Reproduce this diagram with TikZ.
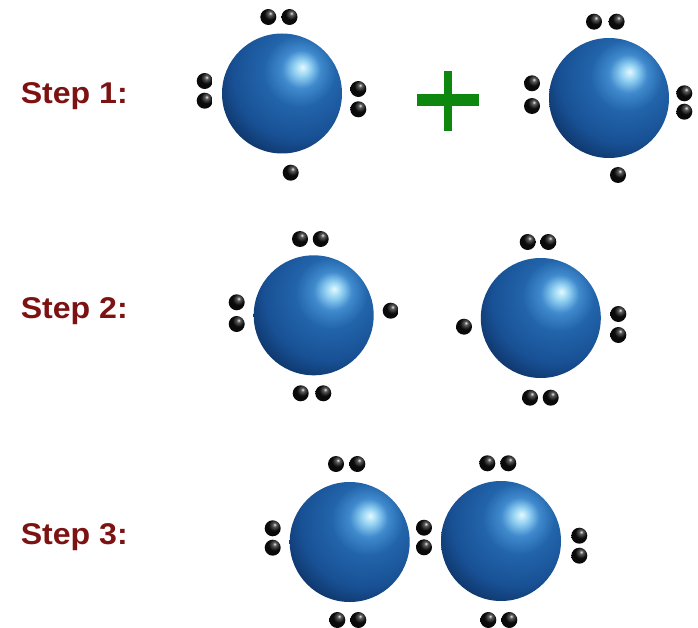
\documentclass[tikz,border=0pt]{standalone}
\usepackage{fontspec}
\setmainfont{Liberation Sans}
\definecolor{steptext}{RGB}{125,18,18}
\definecolor{plusgreen}{RGB}{14,135,14}
\definecolor{atomA}{RGB}{228,249,255}
\definecolor{atomB}{RGB}{145,208,242}
\definecolor{atomC}{RGB}{64,138,205}
\definecolor{atomD}{RGB}{34,100,170}
\definecolor{atomE}{RGB}{24,80,148}
\definecolor{atomF}{RGB}{13,50,100}
\definecolor{atomG}{RGB}{6,28,62}
\definecolor{elecA}{RGB}{235,235,235}
\definecolor{elecB}{RGB}{90,90,90}
\definecolor{elecC}{RGB}{10,10,10}
\pgfdeclareradialshading{atomball}{\pgfpoint{8.6bp}{11bp}}{color(0bp)=(atomA); color(3.5bp)=(atomB); color(8bp)=(atomC); color(15bp)=(atomD); color(27bp)=(atomE); color(36bp)=(atomF); color(46bp)=(atomG); color(100bp)=(atomG)}
\pgfdeclareradialshading{elecball}{\pgfpoint{6bp}{12bp}}{color(0bp)=(elecA); color(6bp)=(elecB); color(18bp)=(elecC); color(100bp)=(elecC)}
\begin{document}
\begin{tikzpicture}[x=1pt, y=-1pt,
    atom/.style={circle, minimum size=120pt, inner sep=0pt, shade, shading=atomball},
    elec/.style={circle, minimum size=16pt, inner sep=0pt, shade, shading=elecball},
    steplabel/.style={anchor=base west, xscale=1.07, transform shape, text=steptext, font=\fontsize{30}{36}\selectfont\bfseries}]
        \useasboundingbox (0,0) rectangle (698,628);
        \node [steplabel] (lab1) at (17,103.5) {Step 1:};
        \node [steplabel] (lab2) at (17,318.5) {Step 2:};
        \node [steplabel] (lab3) at (17,544.5) {Step 3:};
        \fill [plusgreen] (417,94.5) rectangle (478.5,106);
        \fill [plusgreen] (443.5,71) rectangle (452,131);
        \node [atom] (a1) at (282,93.5) {};
        \node [elec] (a1t1) at (268.3,17) {};\node [elec] (a1t2) at (289.5,17) {};
        \node [elec] (a1l1) at (204.7,81) {};\node [elec] (a1l2) at (204.7,100.7) {};
        \node [elec] (a1r1) at (358.3,89) {};\node [elec] (a1r2) at (358.3,109.3) {};
        \node [elec] (a1b1) at (290.7,172.7) {};
        \node [atom] (a2) at (609,98) {};
        \node [elec] (a2t1) at (594,21.7) {};\node [elec] (a2t2) at (616.6,21.7) {};
        \node [elec] (a2l1) at (532,83.3) {};\node [elec] (a2l2) at (532,106) {};
        \node [elec] (a2r1) at (684.3,93.3) {};\node [elec] (a2r2) at (684.3,111.7) {};
        \node [elec] (a2b1) at (618,175) {};
        \node [atom] (b1) at (313.7,315.3) {};
        \node [elec] (b1t1) at (300,239) {};\node [elec] (b1t2) at (320.7,239) {};
        \node [elec] (b1l1) at (236.7,302.3) {};\node [elec] (b1l2) at (236.7,324) {};
        \node [elec] (b1r1) at (390.7,310.7) {};
        \node [elec] (b1b1) at (300.7,393.3) {};\node [elec] (b1b2) at (323.3,393.3) {};
        \node [atom] (b2) at (540.8,318) {};
        \node [elec] (b2t1) at (527.7,242) {};\node [elec] (b2t2) at (548.3,242) {};
        \node [elec] (b2l1) at (464,326.7) {};
        \node [elec] (b2r1) at (618.3,314) {};\node [elec] (b2r2) at (618.3,335) {};
        \node [elec] (b2b1) at (530,397.7) {};\node [elec] (b2b2) at (550.7,397.7) {};
        \node [atom] (c1) at (349.7,542) {};
        \node [elec] (c1t1) at (336,464) {};\node [elec] (c1t2) at (357.3,464) {};
        \node [elec] (c1l1) at (272.7,528.3) {};\node [elec] (c1l2) at (272.7,547.7) {};
        \node [elec] (c1r1) at (424,527.7) {};\node [elec] (c1r2) at (424,547.3) {};
        \node [elec] (c1b1) at (337.3,620) {};\node [elec] (c1b2) at (358.3,620) {};
        \node [atom] (c2) at (501,541) {};
        \node [elec] (c2t1) at (487.3,463.3) {};\node [elec] (c2t2) at (508.3,463.3) {};
        \node [elec] (c2r1) at (579.3,535.7) {};\node [elec] (c2r2) at (579.3,555.7) {};
        \node [elec] (c2b1) at (488.3,620) {};\node [elec] (c2b2) at (509.3,620) {};
\end{tikzpicture}
\end{document}
